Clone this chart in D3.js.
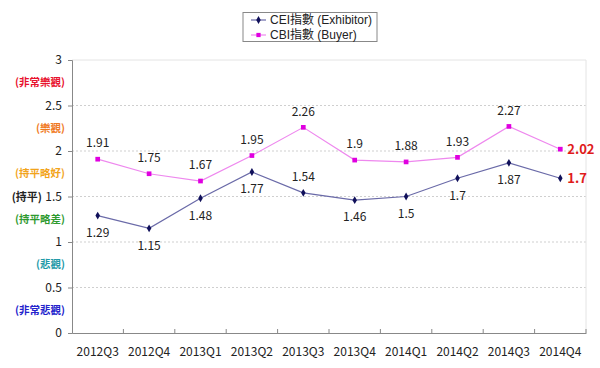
<!DOCTYPE html>
<html><head><meta charset="utf-8">
<script src="https://cdn.jsdelivr.net/npm/d3@7"></script>
<style>body{margin:0;background:#fff}svg{display:block}</style>
</head><body><svg id="c" width="600" height="368"></svg>
<script>
const categories = ["2012Q3","2012Q4","2013Q1","2013Q2","2013Q3","2013Q4","2014Q1","2014Q2","2014Q3","2014Q4"];
const ceiValues = [1.29,1.15,1.48,1.77,1.54,1.46,1.5,1.7,1.87,1.7];
const cbiValues = [1.91,1.75,1.67,1.95,2.26,1.9,1.88,1.93,2.27,2.02];
const yTicks = [0,0.5,1,1.5,2,2.5,3];
const sentimentLabels = [
  {v:2.75, t:"(非常樂觀)", c:"#e8112d"},
  {v:2.25, t:"(樂觀)", c:"#f07a1e"},
  {v:1.75, t:"(持平略好)", c:"#f2a41c"},
  {v:1.25, t:"(持平略差)", c:"#2f9a2f"},
  {v:0.75, t:"(悲觀)", c:"#1f9aa8"},
  {v:0.25, t:"(非常悲觀)", c:"#2222cc"}
];
const ceiLabelPos = ["below","below","below","below","above","below","below","below","below","right"];
const cbiLabelPos = ["above","above","above","above","above","above","above","above","above","right"];

const font = "'Noto Sans CJK TC','Open Sans',sans-serif";
const legendFont = "'Liberation Sans','Noto Sans CJK TC',sans-serif";
const svg = d3.select("#c");
const L=72, R=586, T=60, B=333;
const x = d3.scaleBand().domain(categories).range([L,R]);
const y = d3.scaleLinear().domain([0,3]).range([B,T]);

// gridlines
svg.append("g").selectAll("line").data(yTicks.filter(d=>d>0)).join("line")
  .attr("x1",L).attr("x2",R).attr("y1",d=>y(d)).attr("y2",d=>y(d))
  .attr("stroke",d=>d===3?"#e4e4e4":"#cfcfcf").attr("stroke-dasharray",d=>d===3?null:"2,2").attr("stroke-width",1);
svg.append("line").attr("x1",R).attr("x2",R).attr("y1",T).attr("y2",B).attr("stroke","#e4e4e4");

// y axis
const ya = svg.append("g").attr("transform",`translate(${L},0)`)
  .call(d3.axisLeft(y).tickValues(yTicks).tickSize(4).tickPadding(6).tickFormat(d3.format("")));
ya.select(".domain").attr("stroke","#888");
ya.selectAll(".tick line").attr("stroke","#888");
ya.selectAll(".tick text").attr("font-family",font).attr("font-size",12).attr("fill","#222");
ya.selectAll(".tick").filter(d=>d===1.5).append("text").attr("x",-30).attr("dy","0.32em")
  .attr("text-anchor","end").attr("font-family",font).attr("font-size",11).attr("font-weight","bold").attr("fill","#222").text("(持平)");

svg.append("g").selectAll("text").data(sentimentLabels).join("text")
  .attr("x",65).attr("y",d=>y(d.v)).attr("dy","0.35em").attr("text-anchor","end")
  .attr("font-family",font).attr("font-size",10.5).attr("font-weight","bold").attr("fill",d=>d.c).text(d=>d.t);

// x axis
const xa = svg.append("g").attr("transform",`translate(0,${B})`)
  .call(d3.axisBottom(x).tickSize(0).tickPadding(14));
xa.select(".domain").attr("stroke","#888");
xa.selectAll(".tick text").attr("font-family",font).attr("font-size",12).attr("fill","#222");
svg.append("g").selectAll("line").data(categories).join("line")
  .attr("x1",d=>x(d)+x.bandwidth()).attr("x2",d=>x(d)+x.bandwidth()).attr("y1",B).attr("y2",B-4).attr("stroke","#888");

const cx = i => x(categories[i]) + x.bandwidth()/2;

function drawSeries(vals, lineColor, markerColor, shape, pos) {
  const line = d3.line().x((d,i)=>cx(i)).y(d=>y(d));
  svg.append("path").datum(vals).attr("d",line).attr("fill","none").attr("stroke",lineColor).attr("stroke-width",1.2);
  svg.append("g").selectAll("path").data(vals).join("path")
    .attr("transform",(d,i)=>`translate(${cx(i)},${y(d)})`)
    .attr("d",d3.symbol().type(shape).size(shape===d3.symbolSquare?22:18)).attr("fill",markerColor);
  svg.append("g").selectAll("text").data(vals).join("text")
    .attr("x",(d,i)=>pos[i]==="right"? cx(i)+7 : cx(i))
    .attr("y",(d,i)=>pos[i]==="above"? y(d)-16 : pos[i]==="below"? y(d)+17 : y(d))
    .attr("dy","0.35em")
    .attr("text-anchor",(d,i)=>pos[i]==="right"?"start":"middle")
    .attr("font-family",font)
    .attr("font-size",(d,i)=>pos[i]==="right"?13:12)
    .attr("font-weight",(d,i)=>pos[i]==="right"?600:"normal")
    .attr("fill",(d,i)=>pos[i]==="right"?"#e01b1b":"#222")
    .text(d=>d);
}
drawSeries(cbiValues,"#ee88ee","#e000e0",d3.symbolSquare,cbiLabelPos);
drawSeries(ceiValues,"#6a6aa8","#10105a",d3.symbolDiamond,ceiLabelPos);

// legend
const lg = svg.append("g");
lg.append("rect").attr("x",243).attr("y",12.5).attr("width",134).attr("height",29).attr("fill","#fff").attr("stroke","#888");
const legendItems = [
  {t:"CEI指數 (Exhibitor)", lc:"#6a6aa8", mc:"#10105a", s:d3.symbolDiamond},
  {t:"CBI指數 (Buyer)", lc:"#ee88ee", mc:"#e000e0", s:d3.symbolSquare}
];
legendItems.forEach((it,i)=>{
  const yy = 20 + i*15;
  lg.append("line").attr("x1",251).attr("x2",266).attr("y1",yy).attr("y2",yy).attr("stroke",it.lc).attr("stroke-width",1.2);
  lg.append("path").attr("transform",`translate(258.5,${yy})`).attr("d",d3.symbol().type(it.s).size(18)).attr("fill",it.mc);
  lg.append("text").attr("x",270).attr("y",yy).attr("dy","0.35em").attr("font-family",legendFont).attr("font-size",12).attr("fill","#222").text(it.t);
});
</script></body></html>
